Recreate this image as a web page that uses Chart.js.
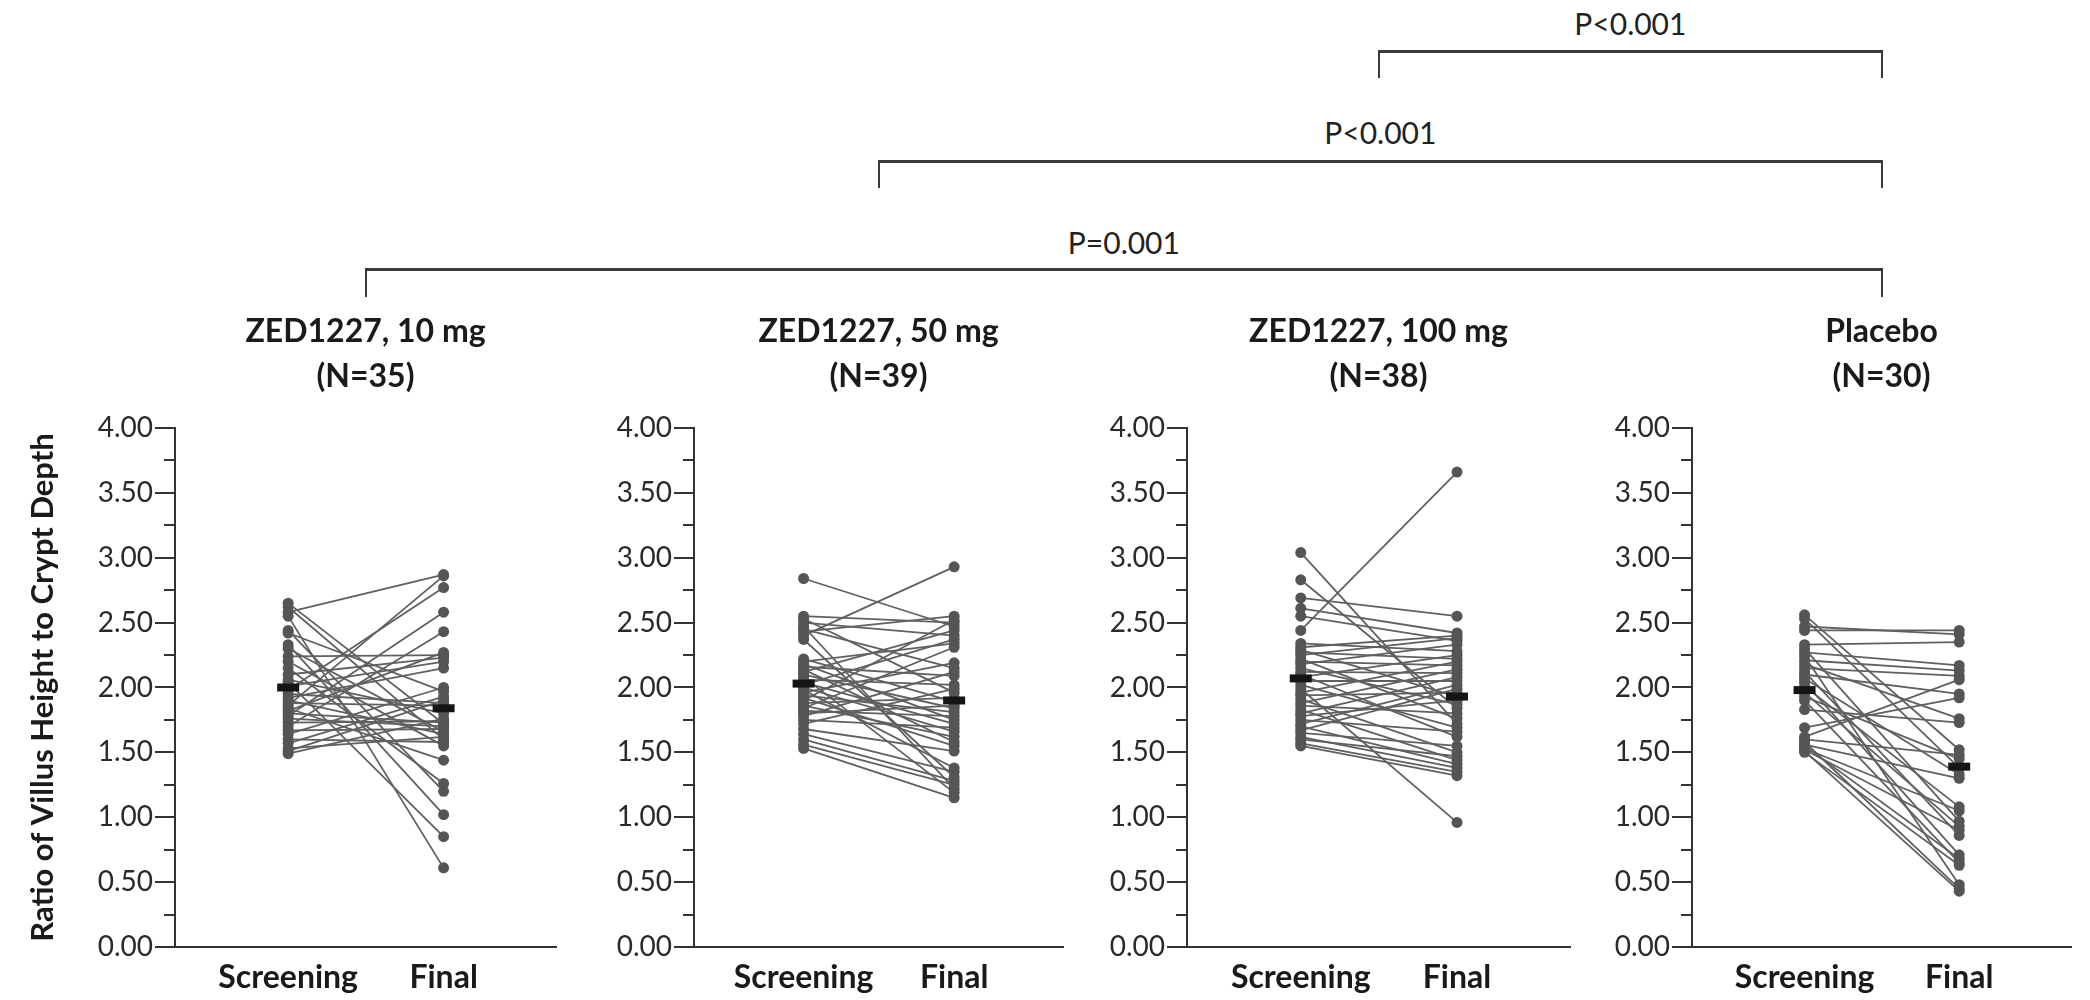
<!DOCTYPE html>
<html lang="en">
<head>
<meta charset="UTF-8">
<title>Ratio of Villus Height to Crypt Depth</title>
<script src="https://cdn.jsdelivr.net/npm/chart.js"></script>
<style>
    body {
        margin: 0;
        background: #fff;
        font-family: Lato, sans-serif;
    }

    #wrap {
        position: relative;
        width: 2090px;
        height: 1000px;
        overflow: hidden;
    }

    .panel {
        position: absolute;
        top: 300px;
    }

    .bracket {
        position: absolute;
        box-sizing: border-box;
        border: 2px solid #3a3a3a;
        border-top-width: 3px;
        border-bottom: none;
    }

    .pval {
        position: absolute;
        font-size: 30px;
        line-height: 1;
        color: #222;
        white-space: nowrap;
        transform: translate(-50%, -50%);
    }
</style>
</head>
<body>
<div id="wrap"></div>

<script>
    // groups and labels
    const groupNames = ['ZED1227, 10 mg', 'ZED1227, 50 mg', 'ZED1227, 100 mg', 'Placebo'];
    const groupN = ['(N=35)', '(N=39)', '(N=38)', '(N=30)'];
    const timeLabels = ['Screening', 'Final'];
    const yTitle = 'Ratio of Villus Height to Crypt Depth';
    const pLabels = ['P=0.001', 'P<0.001', 'P<0.001'];   // 10, 50, 100 mg vs placebo

    // per-patient values, same index = same patient
    const scr10 = [2.65, 2.62, 2.58, 2.55, 2.44, 2.42, 2.33, 2.30, 2.24, 2.20, 2.15, 2.10, 2.06, 2.04, 2.01, 1.98, 1.95, 1.92, 1.90, 1.88, 1.86, 1.84, 1.82, 1.80, 1.78, 1.76, 1.73, 1.70, 1.67, 1.64, 1.60, 1.57, 1.53, 1.51, 1.49];
    const fin10 = [1.72, 1.60, 2.87, 0.61, 1.20, 1.97, 1.02, 1.66, 2.25, 1.55, 1.26, 2.23, 1.80, 0.85, 2.20, 2.77, 1.88, 2.15, 1.64, 1.86, 2.86, 1.44, 2.27, 1.73, 2.58, 1.70, 1.74, 2.43, 1.68, 2.00, 1.58, 1.93, 1.62, 1.90, 1.76];

    const scr50 = [2.84, 2.55, 2.53, 2.50, 2.47, 2.45, 2.43, 2.40, 2.37, 2.22, 2.20, 2.18, 2.16, 2.14, 2.12, 2.10, 2.08, 2.06, 2.04, 2.02, 2.00, 1.98, 1.96, 1.94, 1.92, 1.90, 1.88, 1.86, 1.84, 1.82, 1.80, 1.78, 1.75, 1.72, 1.68, 1.64, 1.60, 1.56, 1.53];
    const fin50 = [2.47, 2.50, 1.96, 2.40, 1.22, 2.15, 2.55, 2.93, 1.31, 1.89, 2.34, 1.75, 2.09, 1.58, 2.44, 1.84, 1.19, 2.02, 1.72, 2.37, 1.66, 1.38, 2.19, 1.81, 1.55, 2.52, 1.92, 1.62, 2.31, 1.78, 1.86, 2.12, 1.69, 1.99, 1.51, 1.35, 1.28, 1.25, 1.15];

    const scr100 = [3.04, 2.83, 2.69, 2.61, 2.55, 2.44, 1.99, 2.34, 2.31, 2.29, 2.27, 2.25, 2.22, 2.20, 2.18, 2.15, 2.12, 2.10, 2.08, 2.05, 2.02, 1.96, 1.94, 1.91, 1.88, 1.86, 1.83, 1.80, 1.78, 1.75, 1.72, 1.70, 1.67, 1.65, 1.62, 1.60, 1.57, 1.55];
    const fin100 = [1.72, 1.84, 2.55, 2.42, 2.36, 3.66, 0.96, 2.28, 2.40, 1.93, 2.22, 2.38, 1.76, 2.17, 2.33, 1.87, 2.11, 1.62, 2.25, 2.05, 1.69, 2.20, 1.96, 1.50, 2.14, 1.80, 1.44, 2.08, 1.90, 1.66, 2.02, 1.41, 1.99, 1.55, 1.38, 1.47, 1.35, 1.32];

    const scrPbo = [2.56, 2.53, 2.47, 2.44, 2.33, 2.30, 2.27, 2.24, 2.21, 2.18, 2.15, 2.12, 2.10, 2.07, 2.04, 2.01, 1.96, 1.93, 1.90, 1.83, 1.69, 1.62, 1.60, 1.58, 1.56, 1.55, 1.53, 1.52, 1.51, 1.50];
    const finPbo = [1.52, 1.38, 2.41, 2.44, 2.35, 0.97, 2.17, 0.48, 2.13, 1.76, 2.09, 0.86, 1.95, 1.33, 0.71, 1.08, 0.93, 1.45, 0.65, 1.73, 1.92, 2.06, 1.48, 0.45, 1.30, 0.68, 1.05, 0.90, 0.43, 0.63];

    // group means (black bars)
    const meanScr = [2.00, 2.03, 2.07, 1.98];
    const meanFin = [1.84, 1.90, 1.93, 1.39];

    const screening = [scr10, scr50, scr100, scrPbo];
    const finals = [fin10, fin50, fin100, finPbo];

    // layout / style
    const X_SCR = 0.297, X_FIN = 0.705;
    const panelLayout = [
        { left: 0, axisW: 175, areaW: 400 },
        { left: 574, axisW: 120, areaW: 388 },
        { left: 1067, axisW: 120, areaW: 402 },
        { left: 1572, axisW: 120, areaW: 398 },
    ];
    const axisColor = '#333';
    const textColor = '#1a1a1a';
    const FONT = 'Lato, "Open Sans", sans-serif';

    const wrap = document.getElementById('wrap');

    function makePanel(i) {
        const lay = panelLayout[i];
        const canvas = document.createElement('canvas');
        canvas.width = lay.axisW + lay.areaW;
        canvas.height = 700;
        canvas.className = 'panel';
        canvas.style.left = lay.left + 'px';
        wrap.appendChild(canvas);

        const fin = finals[i];
        const subjects = screening[i].map((s, k) => ({
            data: [{ x: X_SCR, y: s }, { x: X_FIN, y: fin[k] }],
            showLine: true,
            borderColor: '#606060',
            borderWidth: 1.8,
            pointRadius: 5.5,
            pointBackgroundColor: '#555',
            pointBorderWidth: 0,
            clip: false,
        }));

        const meanSet = {
            data: [{ x: X_SCR, y: meanScr[i] }, { x: X_FIN, y: meanFin[i] }],
            showLine: false,
            pointStyle: 'line',
            pointRadius: 11,
            pointBorderWidth: 8,
            pointBorderColor: '#151515',
            order: -1,
        };

        return new Chart(canvas, {
            type: 'scatter',
            data: { datasets: [meanSet, ...subjects] },
            options: {
                responsive: false,
                animation: false,
                events: [],
                layout: { padding: 0 },
                plugins: {
                    legend: { display: false },
                    tooltip: { enabled: false },
                    title: {
                        display: true,
                        text: [groupNames[i], groupN[i]],
                        fullSize: false,
                        color: textColor,
                        font: { family: FONT, size: 32, weight: 'bold', lineHeight: 1.406 },
                        padding: { top: 9, bottom: 29 },
                    },
                },
                scales: {
                    x: {
                        type: 'linear',
                        min: 0,
                        max: 1,
                        afterBuildTicks: s => { s.ticks = [{ value: X_SCR }, { value: X_FIN }]; },
                        afterFit: s => { s.height = 53; },
                        grid: { display: false, drawTicks: false },
                        border: { display: true, color: axisColor, width: 2 },
                        ticks: {
                            callback: (v, k) => timeLabels[k],
                            autoSkip: false,
                            maxRotation: 0,
                            padding: 11,
                            color: textColor,
                            font: { family: FONT, size: 32, weight: 'bold' },
                        },
                    },
                    y: {
                        min: 0,
                        max: 4,
                        weight: 1,
                        afterFit: s => { s.width = lay.axisW; },
                        ticks: {
                            stepSize: 0.5,
                            callback: v => v.toFixed(2),
                            padding: 2,
                            color: '#2a2a2a',
                            font: { family: FONT, size: 28 },
                        },
                        grid: { drawOnChartArea: false, tickLength: 20, color: axisColor, lineWidth: 2 },
                        border: { color: axisColor, width: 2 },
                        title: {
                            display: i === 0,
                            text: yTitle,
                            color: textColor,
                            font: { family: FONT, size: 31, weight: 'bold' },
                            padding: { top: 24, bottom: 0 },
                        },
                    },
                    // minor ticks every 0.25
                    ym: {
                        position: 'left',
                        min: 0,
                        max: 4,
                        weight: 0,
                        afterFit: s => { s.width = 0; },
                        ticks: { stepSize: 0.25, display: false },
                        grid: { drawOnChartArea: false, tickLength: 11, color: axisColor, lineWidth: 2 },
                        border: { display: false },
                    },
                },
            },
        });
    }

    const charts = groupNames.map((g, i) => makePanel(i));

    // comparison brackets, anchored at the middle of each panel's x scale
    const centers = charts.map((c, i) =>
        panelLayout[i].left + c.scales.x.getPixelForValue((X_SCR + X_FIN) / 2));

    const tiers = [
        { lineY: 268, legY: 297, textY: 242 },
        { lineY: 160, legY: 188, textY: 132 },
        { lineY: 50, legY: 78, textY: 23 },
    ];

    tiers.forEach((t, i) => {
        const x0 = centers[i], x1 = centers[3];
        const b = document.createElement('div');
        b.className = 'bracket';
        b.style.left = (x0 - 1) + 'px';
        b.style.top = t.lineY + 'px';
        b.style.width = (x1 - x0 + 2) + 'px';
        b.style.height = (t.legY - t.lineY) + 'px';
        wrap.appendChild(b);

        const p = document.createElement('div');
        p.className = 'pval';
        p.textContent = pLabels[i];
        p.style.left = ((x0 + x1) / 2) + 'px';
        p.style.top = t.textY + 'px';
        wrap.appendChild(p);
    });
</script>
</body>
</html>
